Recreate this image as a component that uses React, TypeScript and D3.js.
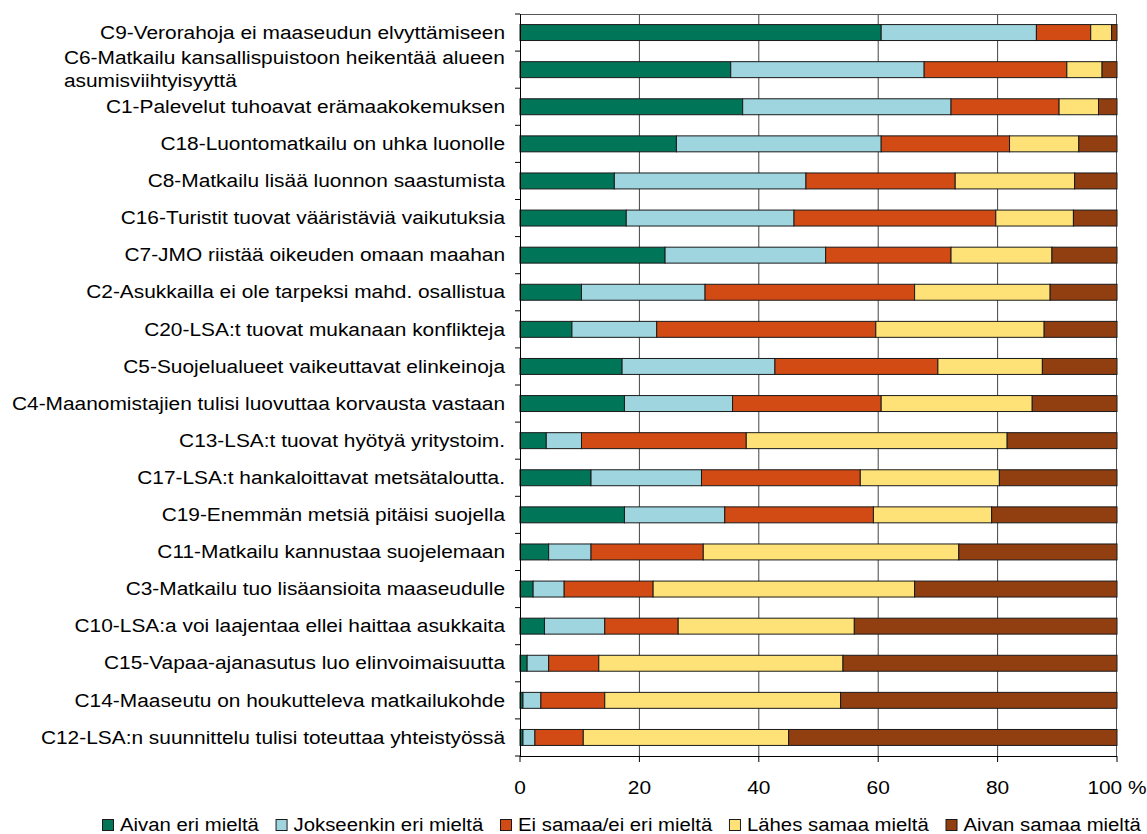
import React from 'react';
import * as d3 from 'd3';

const categories = [
  'C9-Verorahoja ei maaseudun elvyttämiseen',
  'C6-Matkailu kansallispuistoon heikentää alueen asumisviihtyisyyttä',
  'C1-Palevelut tuhoavat erämaakokemuksen',
  'C18-Luontomatkailu on uhka luonolle',
  'C8-Matkailu lisää luonnon saastumista',
  'C16-Turistit tuovat vääristäviä vaikutuksia',
  'C7-JMO riistää oikeuden omaan maahan',
  'C2-Asukkailla ei ole tarpeksi mahd. osallistua',
  'C20-LSA:t tuovat mukanaan konflikteja',
  'C5-Suojelualueet vaikeuttavat elinkeinoja',
  'C4-Maanomistajien tulisi luovuttaa korvausta vastaan',
  'C13-LSA:t tuovat hyötyä yritystoim.',
  'C17-LSA:t hankaloittavat metsätaloutta.',
  'C19-Enemmän metsiä pitäisi suojella',
  'C11-Matkailu kannustaa suojelemaan',
  'C3-Matkailu tuo lisäansioita maaseudulle',
  'C10-LSA:a voi laajentaa ellei haittaa asukkaita',
  'C15-Vapaa-ajanasutus luo elinvoimaisuutta',
  'C14-Maaseutu on houkutteleva matkailukohde',
  'C12-LSA:n suunnittelu tulisi toteuttaa yhteistyössä',
];

const aivanEri = [60.5, 35.3, 37.3, 26.2, 15.8, 17.8, 24.3, 10.3, 8.7, 17.1, 17.5, 4.4, 11.9, 17.5, 4.8, 2.2, 4.1, 1.2, 0.5, 0.5];
const jokseenkinEri = [26.0, 32.4, 34.9, 34.3, 32.1, 28.1, 26.9, 20.7, 14.2, 25.6, 18.1, 5.9, 18.5, 16.8, 7.1, 5.2, 10.1, 3.6, 3.0, 2.0];
const eiSamaaEiEri = [9.1, 23.9, 18.1, 21.5, 25.0, 33.8, 21.0, 35.1, 36.7, 27.3, 24.9, 27.6, 26.6, 24.9, 18.8, 14.9, 12.3, 8.4, 10.7, 8.1];
const lahesSamaa = [3.5, 5.9, 6.6, 11.6, 20.0, 13.0, 16.9, 22.7, 28.2, 17.5, 25.3, 43.7, 23.3, 19.8, 42.8, 43.8, 29.5, 40.9, 39.5, 34.4];
const aivanSamaa = [0.9, 2.5, 3.1, 6.4, 7.1, 7.3, 10.9, 11.2, 12.2, 12.5, 14.2, 18.4, 19.7, 21.0, 26.5, 33.9, 44.0, 45.9, 46.3, 55.0];

const seriesNames = [
  'Aivan eri mieltä',
  'Jokseenkin eri mieltä',
  'Ei samaa/ei eri mieltä',
  'Lähes samaa mieltä',
  'Aivan samaa mieltä',
];
const seriesColors = ['#007558', '#9FD5DE', '#D24A14', '#FFE277', '#913E11'];

const xTicks = [0, 20, 40, 60, 80, 100];
const xTickLabels = ['0', '20', '40', '60', '80', '100 %'];

const FONT = "'Liberation Sans', Arial, sans-serif";
const FS = 18;
const SX = 1.16;

let measureCtx: CanvasRenderingContext2D | null = null;
function measure(s: string, sx: number = SX): number {
  if (!measureCtx) {
    const c = document.createElement('canvas');
    measureCtx = c.getContext('2d');
  }
  if (!measureCtx) return s.length * 9;
  measureCtx.font = `${FS}px 'Liberation Sans'`;
  return measureCtx.measureText(s).width * sx;
}

function wrap(s: string, maxW: number): string[] {
  const words = s.split(' ');
  const lines: string[] = [];
  let cur = '';
  for (const w of words) {
    const t = cur ? cur + ' ' + w : w;
    if (cur && measure(t) > maxW) {
      lines.push(cur);
      cur = w;
    } else cur = t;
  }
  if (cur) lines.push(cur);
  return lines;
}

export default function App() {
  const W = 1147;
  const H = 834;
  const left = 520;
  const right = 1117;
  const top = 14;
  const bottom = 756;

  const x = d3.scaleLinear().domain([0, 100]).range([left, right]);
  const y = d3
    .scaleBand<string>()
    .domain(categories)
    .range([top, bottom])
    .paddingInner(0.57)
    .paddingOuter(0.285);

  const keys = ['a', 'b', 'c', 'd', 'e'];
  const series = [aivanEri, jokseenkinEri, eiSamaaEiEri, lahesSamaa, aivanSamaa];
  const table = categories.map((cat, i) => {
    const row: any = { cat };
    keys.forEach((k, j) => (row[k] = series[j][i]));
    return row;
  });
  const stacked = d3.stack().keys(keys)(table as any);

  const boundaries = d3.range(categories.length + 1).map((i) => top + (bottom - top) * (i / categories.length));

  // legend: spread between 102 and 1141
  const LSX = 1.13;
  const legStart = 102;
  const legEnd = 1141;
  const widths = seriesNames.map((n) => measure(n, LSX));
  const used = widths.reduce((a, w) => a + 18 + w, 0);
  const gap = (legEnd - legStart - used) / (seriesNames.length - 1);
  const legendItems: { sx: number; tx: number; name: string; color: string }[] = [];
  let lx = legStart;
  seriesNames.forEach((name, i) => {
    legendItems.push({ sx: lx, tx: lx + 18, name, color: seriesColors[i] });
    lx = lx + 18 + widths[i] + gap;
  });

  return (
    <svg
      width={W}
      height={H}
      style={{ position: 'absolute', left: 0, top: 0, background: '#fff' }}
      fontFamily={FONT}
    >
      <rect x={0} y={0} width={W} height={H} fill="#fff" />
      {xTicks.slice(1, -1).map((t) => (
        <line key={'g' + t} x1={x(t)} x2={x(t)} y1={top} y2={bottom} stroke="#444" strokeWidth={1} />
      ))}
      <line x1={left} x2={right} y1={top + 0.5} y2={top + 0.5} stroke="#555" strokeWidth={1} />
      <line x1={right - 0.5} x2={right - 0.5} y1={top} y2={bottom} stroke="#555" strokeWidth={1} />

      {stacked.map((s, j) => (
        <g key={'s' + j} fill={seriesColors[j]}>
          {s.map((d: any, i: number) => (
            <rect
              key={i}
              x={x(d[0])}
              y={y(categories[i])!}
              width={Math.max(0, x(d[1]) - x(d[0]))}
              height={y.bandwidth()}
              stroke="#1a1a1a"
              strokeWidth={1}
            />
          ))}
        </g>
      ))}

      <line x1={left + 0.5} x2={left + 0.5} y1={top} y2={bottom} stroke="#000" strokeWidth={1} />
      {boundaries.map((b, i) => (
        <line key={'yt' + i} x1={515} x2={left} y1={b} y2={b} stroke="#000" strokeWidth={1} />
      ))}
      <line x1={left} x2={right} y1={bottom + 0.5} y2={bottom + 0.5} stroke="#000" strokeWidth={1} />
      {xTicks.map((t) => (
        <line key={'xt' + t} x1={x(t)} x2={x(t)} y1={bottom} y2={bottom + 6} stroke="#000" strokeWidth={1} />
      ))}
      {xTicks.map((t, i) => (
        <g key={'xl' + t} transform={`translate(${x(t)},794) scale(${SX},1)`}>
          <text textAnchor="middle" fontSize={FS} fill="#000">
            {xTickLabels[i]}
          </text>
        </g>
      ))}

      {categories.map((c) => {
        const cy = y(c)! + y.bandwidth() / 2;
        const lines = wrap(c, 495);
        const maxW = Math.max(...lines.map((l) => measure(l)));
        const lh = 23;
        if (lines.length === 1) {
          return (
            <g key={c} transform={`translate(505,${cy + 6.2}) scale(${SX},1)`}>
              <text textAnchor="end" fontSize={FS} fill="#000">
                {c}
              </text>
            </g>
          );
        }
        return (
          <g key={c} transform={`translate(${505 - maxW},${cy + 6.2}) scale(${SX},1)`}>
            {lines.map((ln, k) => (
              <text key={k} x={0} y={(k - (lines.length - 1) / 2) * lh} fontSize={FS} fill="#000">
                {ln}
              </text>
            ))}
          </g>
        );
      })}

      {legendItems.map((it) => (
        <g key={it.name}>
          <rect x={it.sx + 0.5} y={819.5} width={11} height={11} fill={it.color} stroke="#1a1a1a" strokeWidth={1} />
          <g transform={`translate(${it.tx},831) scale(${LSX},1)`}>
            <text fontSize={FS} fill="#000">
              {it.name}
            </text>
          </g>
        </g>
      ))}
    </svg>
  );
}
